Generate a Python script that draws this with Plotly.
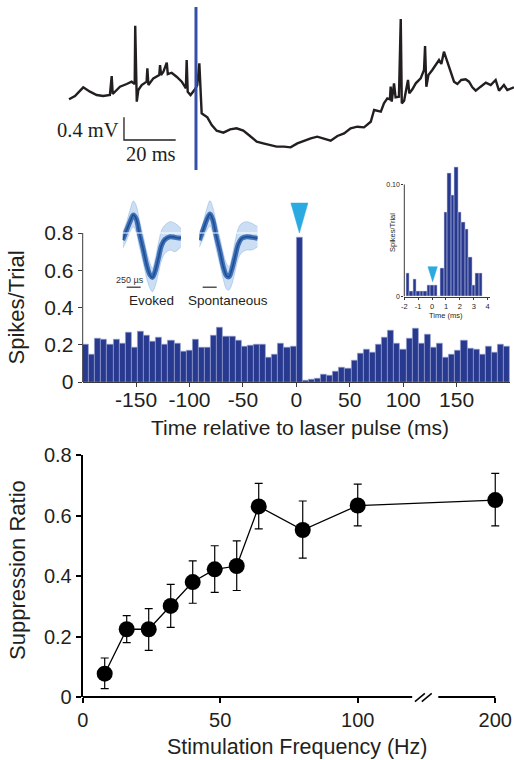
import plotly.graph_objects as go

W, H = 514, 760
def px(x): return x / W
def py(y): return 1 - y / H

# ---------------- DATA ----------------
# Panel A: membrane potential (ms relative to laser pulse, mV)
trace_t = [-49.1, -46.8, -43.6, -41.0, -38.4, -35.9, -33.3, -32.6, -32.2, -29.4, -26.8, -24.9, -23.7, -23.5,
           -22.9, -22.3, -21.0, -19.1, -18.8, -18.4, -16.5, -14.2, -13.9, -13.5, -12.6, -11.3, -10.9, -9.4,
           -7.5, -5.5, -3.9, -3.6, -3.2, -2.1, -0.4, 0.5, 1.3, 1.7, 2.2, 3.1, 4.4, 6.1, 8.0, 10.6, 13.2, 15.7,
           18.3, 20.9, 23.5, 26.0, 28.6, 31.2, 34.0, 36.6, 39.2, 41.8, 44.4, 46.9, 49.5, 52.1, 54.7, 57.3,
           59.8, 62.4, 65.0, 67.6, 68.9, 71.5, 72.7, 74.0, 75.0, 75.3, 75.7, 76.6, 77.2, 78.5, 79.2, 79.6,
           80.5, 82.0, 82.5, 83.7, 85.0, 86.9, 88.2, 88.6, 89.1, 89.9, 91.4, 92.7, 94.0, 94.9, 95.9, 97.0,
           98.3, 99.8, 101.1, 102.6, 104.3, 105.6, 106.9, 108.2, 110.1, 112.1, 114.0, 115.9, 117.2, 119.1,
           120.4, 123.0]
trace_v = [0.894, 0.952, 1.106, 1.029, 0.970, 0.952, 0.970, 1.305, 0.988, 1.117, 1.164, 1.205, 1.164, 2.19,
           0.852, 1.058, 1.146, 1.205, 1.44, 1.146, 1.264, 1.323, 1.499, 1.323, 1.381, 1.54, 1.340, 1.363,
           1.293, 1.205, 1.088, 1.587, 1.029, 0.970, 1.070, 1.146, 1.529, 1.088, 0.647, 0.617, 0.576, 0.441,
           0.341, 0.306, 0.364, 0.382, 0.341, 0.247, 0.147, 0.117, 0.088, 0.059, 0.059, 0.047, 0.117, 0.165,
           0.206, 0.235, 0.206, 0.165, 0.247, 0.294, 0.382, 0.411, 0.400, 0.499, 0.705, 0.676, 0.823, 0.911,
           0.894, 1.117, 0.852, 1.176, 0.929, 0.941, 2.310, 0.823, 0.870, 1.235, 1.0, 1.070, 1.176, 1.264,
           1.411, 1.834, 1.117, 1.323, 1.411, 1.499, 1.587, 1.517, 1.734, 1.587, 1.411, 1.205, 1.164, 1.235,
           1.246, 1.205, 1.106, 1.046, 1.117, 1.188, 1.146, 1.235, 1.046, 1.146, 1.058, 1.106]

# Panel B: PSTH (70 bins spanning -200..200 ms)
psth_start, psth_end, psth_nbins = -200, 200, 70
psth_values = [0.204, 0.147, 0.233, 0.227, 0.204, 0.229, 0.209, 0.267, 0.183, 0.272, 0.249, 0.215, 0.238,
               0.199, 0.224, 0.209, 0.163, 0.168, 0.229, 0.184, 0.184, 0.251, 0.294,
               0.245, 0.245, 0.222, 0.190, 0.195, 0.199, 0.199, 0.134, 0.147, 0.209, 0.184, 0.193,
               0.775,
               0.007, 0.0125, 0.0197, 0.043, 0.034, 0.054, 0.079, 0.075, 0.115, 0.154,
               0.177, 0.159, 0.204, 0.238, 0.277, 0.209, 0.174, 0.233, 0.290, 0.209, 0.254, 0.184,
               0.209, 0.134, 0.147, 0.168, 0.224, 0.181, 0.174, 0.150, 0.193, 0.161, 0.200, 0.193]
psth_xticks = [-150, -100, -50, 0, 50, 100, 150]
psth_xticklabels = ["-150", "-100", "-50", "0", "50", "100", "150"]
psth_yticks = [0, 0.2, 0.4, 0.6, 0.8]
psth_yticklabels = ["0", "0.2", "0.4", "0.6", "0.8"]

# Waveform insets (time in microseconds, amplitude arbitrary units)
wf_t = [0, 71, 131, 190, 238, 298, 369, 428, 488, 530, 577, 637, 696, 756, 845, 934, 1041]
evoked_mean = [0, 30, 55, 75, 65, 20, -30, -75, -105, -112, -95, -55, -15, 2, 10, 8, 5]
evoked_hi = [22, 55, 90, 117, 105, 60, 10, -35, -70, -85, -60, -10, 30, 45, 55, 50, 35]
evoked_lo = [-25, 0, 25, 40, 25, -20, -70, -115, -145, -155, -140, -100, -60, -40, -30, -35, -20]
spont_mean = [0, 32, 60, 78, 62, 15, -35, -80, -108, -110, -90, -50, -12, 5, 10, 8, 5]
spont_hi = [20, 55, 92, 118, 100, 55, 5, -40, -72, -80, -55, -5, 35, 50, 55, 50, 40]
spont_lo = [-22, 5, 28, 42, 22, -25, -75, -118, -148, -150, -135, -95, -55, -38, -30, -30, -20]

# Inset PSTH (0.25 ms bins)
inset_first_center, inset_bin = -1.75, 0.25
inset_values = [0.021, 0.005, 0.0155, 0.005, 0.005, 0.005, 0.0104, 0.0104, 0.0104, 0.0, 0.025, 0.075,
                0.110, 0.090, 0.1155, 0.075, 0.066, 0.060, 0.035, 0.0104, 0.021, 0.021]
inset_xticks = [-2, -1, 0, 1, 2, 3, 4]
inset_xticklabels = ["-2", "-1", "0", "1", "2", "3", "4"]

# Panel C: suppression ratio vs frequency
freq = [8, 16, 24, 32, 40, 48, 56, 64, 80, 100, 200]
ratio = [0.077, 0.224, 0.224, 0.301, 0.380, 0.422, 0.433, 0.630, 0.552, 0.633, 0.651]
ratio_hi = [0.129, 0.269, 0.292, 0.372, 0.450, 0.500, 0.516, 0.706, 0.648, 0.704, 0.739]
ratio_lo = [0.028, 0.180, 0.154, 0.230, 0.310, 0.346, 0.352, 0.556, 0.459, 0.566, 0.566]
freq_ticks = [0, 50, 100, 200]
ratio_yticks = [0, 0.2, 0.4, 0.6, 0.8]
ratio_yticklabels = ["0", "0.2", "0.4", "0.6", "0.8"]

# ---------------- DERIVED ----------------
bw = (psth_end - psth_start) / psth_nbins
psth_centers = [psth_start + (k + 0.5) * bw for k in range(psth_nbins)]
inset_centers = [inset_first_center + k * inset_bin for k in range(len(inset_values))]

def fpos(f):  # broken axis: segment above 100 Hz compressed by 2
    return f if f <= 100 else 100 + (f - 100) * 0.5
freq_pos = [fpos(f) for f in freq]
freq_tickpos = [fpos(f) for f in freq_ticks]
err_plus = [h - r for h, r in zip(ratio_hi, ratio)]
err_minus = [r - l for r, l in zip(ratio, ratio_lo)]

NAVY = "#283a8f"
CYAN = "#2baae2"
INK = "#231f20"
FONT = "Liberation Sans, Arial, Helvetica, sans-serif"

fig = go.Figure()

# Panel A trace
fig.add_trace(go.Scatter(x=trace_t, y=trace_v, mode="lines", line=dict(color=INK, width=2.4),
                         xaxis="x", yaxis="y", showlegend=False, hoverinfo="skip"))

# Panel B PSTH
fig.add_trace(go.Bar(x=psth_centers, y=psth_values, width=bw, marker=dict(color=NAVY, line=dict(color="#9aa4cf", width=0.6)),
                     xaxis="x2", yaxis="y2", showlegend=False))

# Waveforms
for (ax, ay, hi, lo, mean) in [("x3", "y3", evoked_hi, evoked_lo, evoked_mean),
                               ("x4", "y4", spont_hi, spont_lo, spont_mean)]:
    fig.add_trace(go.Scatter(x=wf_t, y=hi, mode="lines", line=dict(color="rgba(120,165,220,0.5)", width=0.8, shape="spline"),
                             xaxis=ax, yaxis=ay, showlegend=False, hoverinfo="skip"))
    fig.add_trace(go.Scatter(x=wf_t, y=lo, mode="lines", line=dict(color="rgba(120,165,220,0.5)", width=0.8, shape="spline"),
                             fill="tonexty", fillcolor="rgba(110,160,220,0.35)",
                             xaxis=ax, yaxis=ay, showlegend=False, hoverinfo="skip"))
    fig.add_trace(go.Scatter(x=wf_t, y=mean, mode="lines", line=dict(color="rgba(40,95,170,0.85)", width=5, shape="spline"),
                             xaxis=ax, yaxis=ay, showlegend=False, hoverinfo="skip"))
    fig.add_trace(go.Scatter(x=wf_t, y=mean, mode="lines", line=dict(color="#1d4d96", width=1.5, shape="spline"),
                             xaxis=ax, yaxis=ay, showlegend=False, hoverinfo="skip"))

# Inset PSTH
fig.add_trace(go.Bar(x=inset_centers, y=inset_values, width=inset_bin,
                     marker=dict(color=NAVY, line=dict(color="#c8cde6", width=0.5)),
                     xaxis="x5", yaxis="y5", showlegend=False))

# Panel C
fig.add_trace(go.Scatter(x=freq_pos, y=ratio, mode="lines+markers",
                         line=dict(color="black", width=1.3),
                         marker=dict(color="black", size=16),
                         error_y=dict(type="data", symmetric=False, array=err_plus, arrayminus=err_minus,
                                      color="black", thickness=1.2, width=4),
                         xaxis="x6", yaxis="y6", showlegend=False, cliponaxis=False))

hidden = dict(visible=False, showgrid=False, zeroline=False)
tickfontB = dict(family=FONT, size=21, color=INK)
tickfontC = dict(family=FONT, size=20, color=INK)
tickfont8 = dict(family=FONT, size=7.5, color=INK)

layout = dict(
    width=W, height=H, margin=dict(l=0, r=0, t=0, b=0, autoexpand=False),
    paper_bgcolor="white", plot_bgcolor="rgba(0,0,0,0)",
    bargap=0, showlegend=False,
    xaxis=dict(domain=[0, 1], range=[-75.8, 123.0], anchor="y", **hidden),
    yaxis=dict(domain=[py(175), 1], range=[-0.441, 2.646], anchor="x", **hidden),
    xaxis2=dict(domain=[px(82.7), px(510)], range=[psth_start, psth_end], anchor="y2",
                showline=True, linecolor="#3a3a3a", linewidth=1, ticks="outside", ticklen=4, tickcolor="#3a3a3a",
                tickvals=psth_xticks, ticktext=psth_xticklabels, tickfont=tickfontB, ticklabelstandoff=-5,
                showgrid=False, zeroline=False),
    yaxis2=dict(domain=[py(382), py(382 - 0.98 * 186.25)], range=[0, 0.98], anchor="x2",
                showline=False, ticks="outside", ticklen=4, tickcolor="#3a3a3a",
                tickvals=psth_yticks, ticktext=psth_yticklabels, tickfont=tickfontB, showgrid=False, zeroline=False),
    xaxis3=dict(domain=[px(122.7), px(181)], range=[0, 1041], anchor="y3", **hidden),
    yaxis3=dict(domain=[py(296.7), py(196.7)], range=[-170, 130], anchor="x3", **hidden),
    xaxis4=dict(domain=[px(199.3), px(257.7)], range=[0, 1041], anchor="y4", **hidden),
    yaxis4=dict(domain=[py(296.7), py(196.7)], range=[-170, 130], anchor="x4", **hidden),
    xaxis5=dict(domain=[px(404.3), px(490)], range=[-2, 4.17], anchor="y5",
                showline=True, linecolor="#3a3a3a", linewidth=1, ticks="outside", ticklen=2, tickcolor="#3a3a3a",
                tickvals=inset_xticks, ticktext=inset_xticklabels, tickfont=tickfont8, showgrid=False, zeroline=False),
    yaxis5=dict(domain=[py(296.5), py(164.3)], range=[0, 0.118], anchor="x5",
                showline=False, ticks="outside", ticklen=2, tickcolor="#3a3a3a",
                tickvals=[0, 0.1], ticktext=["0", "0.10"], tickfont=dict(family=FONT, size=7, color=INK),
                showgrid=False, zeroline=False),
    xaxis6=dict(domain=[px(82.7), px(509)], range=[0, 155], anchor="y6",
                showline=False, ticks="outside", ticklen=5, tickwidth=2, tickcolor="black",
                tickvals=freq_tickpos, ticktext=[str(f) for f in freq_ticks], tickfont=tickfontC,
                showgrid=False, zeroline=False),
    yaxis6=dict(domain=[py(697), py(455)], range=[0, 0.8], anchor="x6",
                showline=True, linecolor="black", linewidth=2, ticks="outside", ticklen=5, tickwidth=2,
                tickcolor="black", tickvals=ratio_yticks, ticktext=ratio_yticklabels, tickfont=tickfontC,
                showgrid=False, zeroline=False),
)

shapes = []
# laser line in panel A
shapes.append(dict(type="line", xref="x", yref="y", x0=0, x1=0, y0=-0.353, y1=2.522,
                   line=dict(color="#3550a8", width=3)))
# scale bar panel A (20 ms, 0.4 mV)
sb_t0, sb_v0 = -27.85, 0.176
shapes.append(dict(type="path", xref="x", yref="y",
                   path=f"M {sb_t0},{sb_v0 + 0.4} L {sb_t0},{sb_v0} L {sb_t0 + 20},{sb_v0}",
                   line=dict(color=INK, width=1.3)))
# PSTH y axis line (0..0.8)
shapes.append(dict(type="line", xref="x2 domain", yref="y2", x0=0, x1=0, y0=0, y1=0.8,
                   line=dict(color="#3a3a3a", width=1)))
# cyan triangle over the 0 bin
tri_c = psth_centers[35]
shapes.append(dict(type="path", xref="x2", yref="y2",
                   path=f"M {tri_c - 8},0.961 L {tri_c + 8},0.961 L {tri_c},0.80 Z",
                   fillcolor=CYAN, line=dict(color=CYAN, width=0.5)))
# white line through waveforms
shapes.append(dict(type="line", xref="paper", yref="y2", x0=px(122), x1=px(259), y0=0.8, y1=0.8,
                   line=dict(color="white", width=1.2)))
# waveform scale bars (250 us)
shapes.append(dict(type="line", xref="x3", yref="y3", x0=71, x1=321, y0=-142, y1=-142,
                   line=dict(color="#555555", width=1.5)))
shapes.append(dict(type="line", xref="x4", yref="y4", x0=60, x1=310, y0=-142, y1=-142,
                   line=dict(color="#555555", width=1.5)))
# inset y axis line (0..0.10)
shapes.append(dict(type="line", xref="x5 domain", yref="y5", x0=0, x1=0, y0=0, y1=0.10,
                   line=dict(color="#3a3a3a", width=1)))
# inset cyan triangle
shapes.append(dict(type="path", xref="x5", yref="y5",
                   path="M -0.3,0.0266 L 0.38,0.0266 L 0.04,0.0132 Z",
                   fillcolor=CYAN, line=dict(color=CYAN, width=0.5)))
# Panel C x axis with break
shapes.append(dict(type="line", xref="x6", yref="y6 domain", x0=0, x1=119.8, y0=0, y1=0,
                   line=dict(color="black", width=2)))
shapes.append(dict(type="line", xref="x6", yref="y6 domain", x0=129.3, x1=150, y0=0, y1=0,
                   line=dict(color="black", width=2)))
for x0 in (120.8, 123.3):
    shapes.append(dict(type="line", xref="x6", yref="y6 domain", x0=x0, x1=x0 + 3.6, y0=-0.019, y1=0.015,
                       line=dict(color="black", width=1.5)))
layout["shapes"] = shapes

def ann(text, x, y, size, family=FONT, angle=0, xanchor="center", color=INK, xref="paper", yref="paper"):
    return dict(text=text, x=x, y=y, xref=xref, yref=yref, showarrow=False, textangle=angle,
                xanchor=xanchor, yanchor="middle", font=dict(family=family, size=size, color=color))

SERIF = "Liberation Serif, Times New Roman, serif"
annotations = [
    ann("0.4 mV", px(121), py(130), 20.5, family=SERIF, xanchor="right"),
    ann("20 ms", px(151), py(154), 20.5, family=SERIF),
    ann("Spikes/Trial", px(16.5), py(308), 22, angle=-90),
    ann("Time relative to laser pulse (ms)", px(300), py(427), 21),
    ann("250 µs", px(130), py(280), 9, color="#333333"),
    ann("Evoked", px(151), py(300), 13.5),
    ann("Spontaneous", px(227.5), py(300), 13.5),
    ann("Spikes/Trial", px(392), py(233), 7.5, angle=-90),
    ann("Time (ms)", px(446), py(315.5), 7.5),
    ann("Suppression Ratio", px(17), py(570), 22, angle=-90),
    ann("Stimulation Frequency (Hz)", px(297), py(747), 21.5),
]
layout["annotations"] = annotations

fig.update_layout(**layout)
fig.write_html("out.html", config={"displayModeBar": False},
               post_script="document.body.style.margin='0';document.body.style.padding='0';")
